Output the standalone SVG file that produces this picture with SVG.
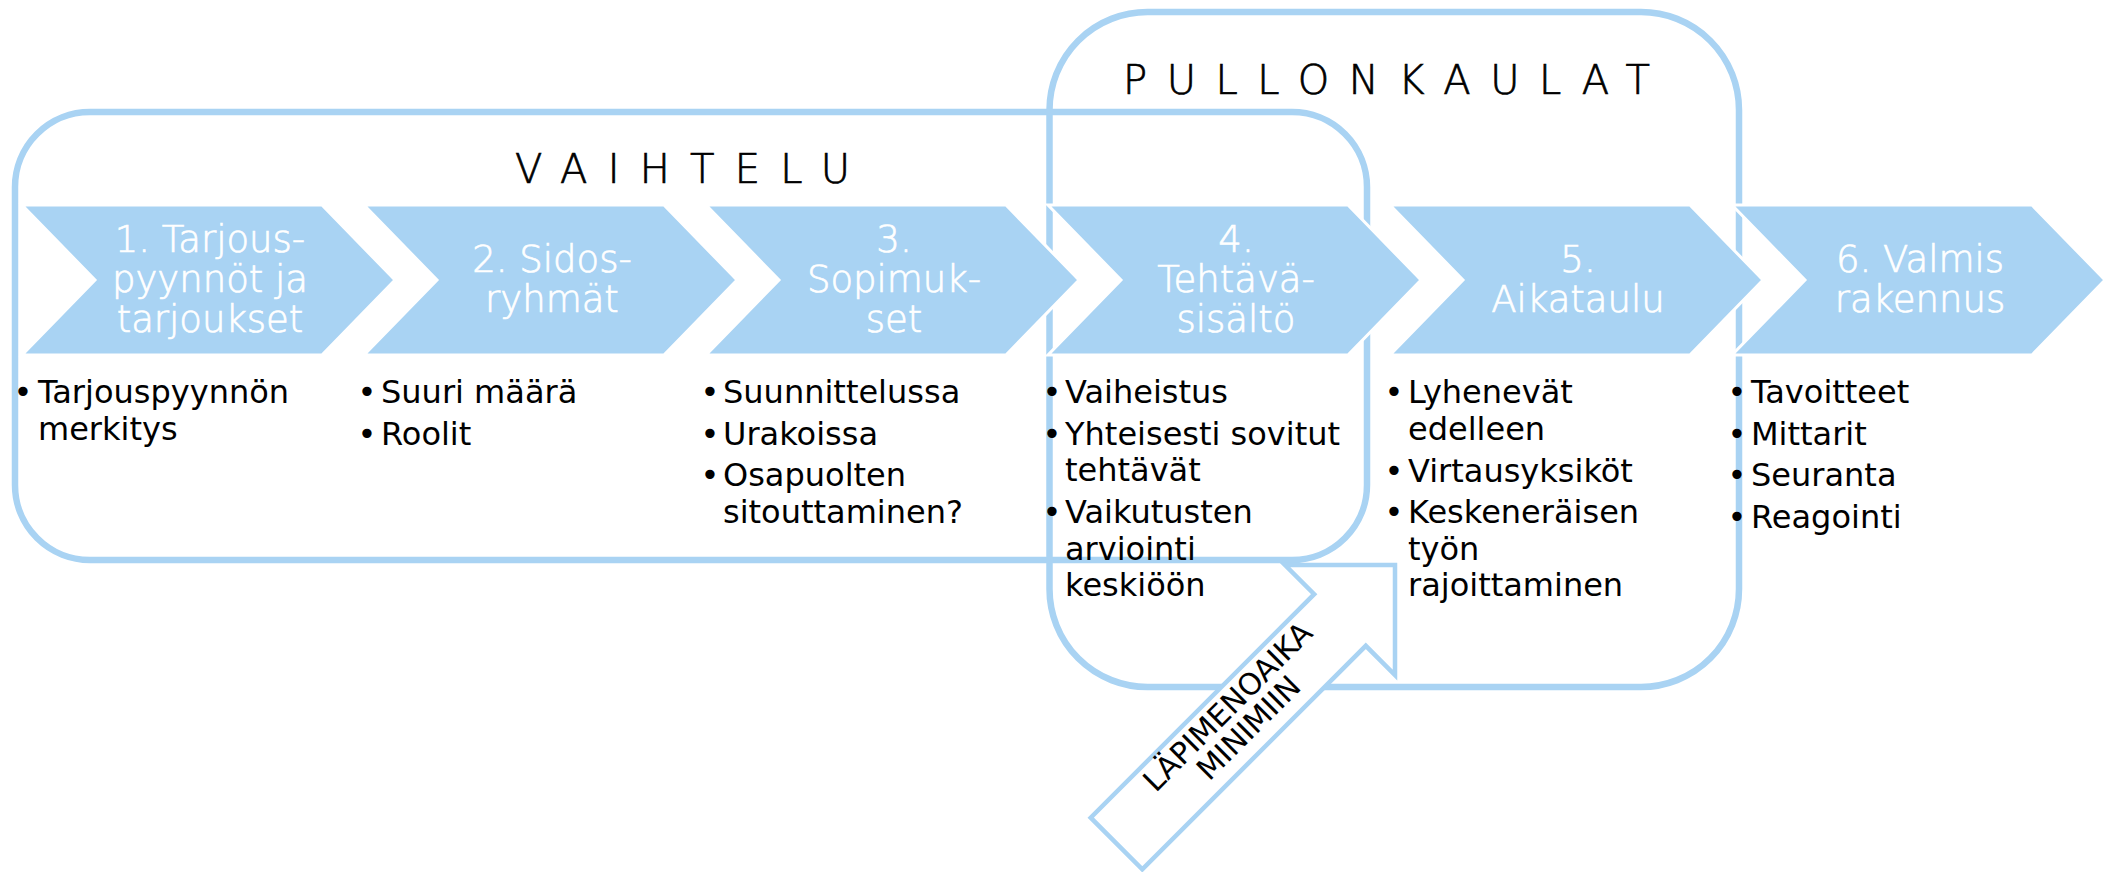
<svg xmlns="http://www.w3.org/2000/svg" width="2116" height="872" viewBox="0 0 2116 872">
  <style>
    .frame { fill: none; stroke: #A9D3F3; stroke-width: 6.5; }
    .chev { fill: #A9D3F3; stroke: #FFFFFF; stroke-width: 3; stroke-linejoin: miter; }
    .ctext { font-family: "DejaVu Sans", Verdana, sans-serif; font-size: 37px; font-weight: 200; fill: #FFFFFF; stroke: #FFFFFF; stroke-width: 0.7; text-anchor: middle; }
    .btext { font-family: "DejaVu Sans", Verdana, sans-serif; font-size: 32px; fill: #000000; }
    .dot { font-family: "DejaVu Sans", Verdana, sans-serif; font-size: 32px; fill: #000000; text-anchor: middle; }
    .title { font-family: "DejaVu Sans", Verdana, sans-serif; font-size: 40px; font-weight: 200; fill: #000000; stroke: #000000; stroke-width: 0.7; }
    .arrow { fill: #FFFFFF; stroke: #A9D3F3; stroke-width: 4.5; stroke-linejoin: miter; }
    .atext { font-family: "DejaVu Sans", Verdana, sans-serif; font-size: 30px; fill: #000000; text-anchor: middle; }
  </style>

  <g id="vaihtelu">
    <rect class="frame" x="15" y="112" width="1352" height="448" rx="75" ry="75"/>
    <text class="title" x="515" y="183" textLength="335" lengthAdjust="spacing">VAIHTELU</text>
  </g>

  <g id="pullonkaulat">
    <rect class="frame" x="1049.5" y="12" width="689.5" height="675" rx="98" ry="98"/>
    <text class="title" x="1123" y="94" textLength="527" lengthAdjust="spacing">PULLONKAULAT</text>
  </g>

  <g id="step1">
    <path class="chev" d="M22,205 H322 L395,280 L322,355 H22 L95,280 Z"/>
    <text class="ctext" x="210" y="252">1. Tarjous-</text>
    <text class="ctext" x="210" y="292">pyynnöt ja</text>
    <text class="ctext" x="210" y="332">tarjoukset</text>
    <text class="dot" x="23" y="403">•</text>
    <text class="btext" x="38" y="403">Tarjouspyynnön</text>
    <text class="btext" x="38" y="440">merkitys</text>
  </g>

  <g id="step2">
    <path class="chev" d="M364,205 H664 L737,280 L664,355 H364 L437,280 Z"/>
    <text class="ctext" x="552" y="272">2. Sidos-</text>
    <text class="ctext" x="552" y="312">ryhmät</text>
    <text class="dot" x="367" y="403">•</text>
    <text class="btext" x="381" y="403">Suuri määrä</text>
    <text class="dot" x="367" y="444.5">•</text>
    <text class="btext" x="381" y="444.5">Roolit</text>
  </g>

  <g id="step3">
    <path class="chev" d="M706,205 H1006 L1079,280 L1006,355 H706 L779,280 Z"/>
    <text class="ctext" x="894" y="252">3.</text>
    <text class="ctext" x="894" y="292">Sopimuk-</text>
    <text class="ctext" x="894" y="332">set</text>
    <text class="dot" x="710" y="403">•</text>
    <text class="btext" x="723" y="403">Suunnittelussa</text>
    <text class="dot" x="710" y="444.5">•</text>
    <text class="btext" x="723" y="444.5">Urakoissa</text>
    <text class="dot" x="710" y="486">•</text>
    <text class="btext" x="723" y="486">Osapuolten</text>
    <text class="btext" x="723" y="522.5">sitouttaminen?</text>
  </g>

  <g id="step4">
    <path class="chev" d="M1048,205 H1348 L1421,280 L1348,355 H1048 L1121,280 Z"/>
    <text class="ctext" x="1236" y="252">4.</text>
    <text class="ctext" x="1236" y="292">Tehtävä-</text>
    <text class="ctext" x="1236" y="332">sisältö</text>
    <text class="dot" x="1052" y="403">•</text>
    <text class="btext" x="1065" y="403">Vaiheistus</text>
    <text class="dot" x="1052" y="444.5">•</text>
    <text class="btext" x="1065" y="444.5">Yhteisesti sovitut</text>
    <text class="btext" x="1065" y="481">tehtävät</text>
    <text class="dot" x="1052" y="523">•</text>
    <text class="btext" x="1065" y="523">Vaikutusten</text>
    <text class="btext" x="1065" y="559.5">arviointi</text>
    <text class="btext" x="1065" y="596">keskiöön</text>
  </g>

  <g id="step5">
    <path class="chev" d="M1390,205 H1690 L1763,280 L1690,355 H1390 L1463,280 Z"/>
    <text class="ctext" x="1578" y="272">5.</text>
    <text class="ctext" x="1578" y="312">Aikataulu</text>
    <text class="dot" x="1394" y="403">•</text>
    <text class="btext" x="1408" y="403">Lyhenevät</text>
    <text class="btext" x="1408" y="440">edelleen</text>
    <text class="dot" x="1394" y="481.5">•</text>
    <text class="btext" x="1408" y="481.5">Virtausyksiköt</text>
    <text class="dot" x="1394" y="523">•</text>
    <text class="btext" x="1408" y="523">Keskeneräisen</text>
    <text class="btext" x="1408" y="559.5">työn</text>
    <text class="btext" x="1408" y="596">rajoittaminen</text>
  </g>

  <g id="step6">
    <path class="chev" d="M1732,205 H2032 L2105,280 L2032,355 H1732 L1805,280 Z"/>
    <text class="ctext" x="1920" y="272">6. Valmis</text>
    <text class="ctext" x="1920" y="312">rakennus</text>
    <text class="dot" x="1737" y="403">•</text>
    <text class="btext" x="1751" y="403">Tavoitteet</text>
    <text class="dot" x="1737" y="444.5">•</text>
    <text class="btext" x="1751" y="444.5">Mittarit</text>
    <text class="dot" x="1737" y="486">•</text>
    <text class="btext" x="1751" y="486">Seuranta</text>
    <text class="dot" x="1737" y="527.5">•</text>
    <text class="btext" x="1751" y="527.5">Reagointi</text>
  </g>

  <g id="lapimenoaika">
    <polygon class="arrow" points="1395,565 1285,565 1314.2,594.2 1090.7,817.7 1142.3,869.3 1365.8,645.8 1395,675"/>
    <text class="atext" transform="translate(1235,714) rotate(-45)">LÄPIMENOAIKA</text>
    <text class="atext" transform="translate(1256,735) rotate(-45)">MINIMIIN</text>
  </g>

  <g id="connectors"/>
</svg>
